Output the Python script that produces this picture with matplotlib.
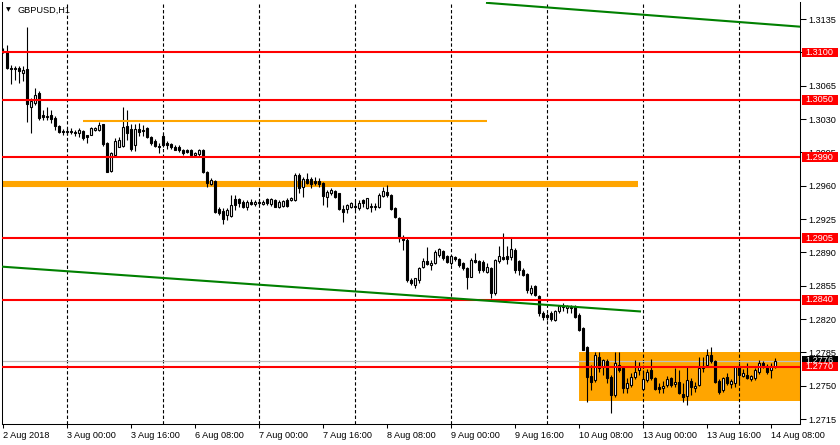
import matplotlib
matplotlib.use("Agg")
import matplotlib.pyplot as plt
import matplotlib.transforms as mtransforms
from matplotlib.patches import Rectangle
import numpy as np

# GBPUSD H1 bars, 2 Aug 2018 08:00 -> 14 Aug 2018 09:00 (weekends skipped)
opens = [
    1.3100, 1.3100, 1.3084, 1.3083, 1.3084, 1.3078, 1.3083, 1.3043, 1.3047, 1.3057,
    1.3034, 1.3032, 1.3034, 1.3031, 1.3023, 1.3017, 1.3016, 1.3017, 1.3016, 1.3015,
    1.3017, 1.3013, 1.3013, 1.3019, 1.3019, 1.3025, 1.3005, 1.2975, 1.2992, 1.3001,
    1.3002, 1.3023, 1.3020, 1.3003, 1.3020, 1.3019, 1.3021, 1.3011, 1.3007, 1.3002,
    1.3012, 1.3005, 1.3004, 1.3001, 1.3001, 1.2997, 1.2997, 1.2997, 1.2992, 1.2993,
    1.2997, 1.2974, 1.2962, 1.2965, 1.2936, 1.2933, 1.2929, 1.2928, 1.2946, 1.2946,
    1.2943, 1.2938, 1.2943, 1.2941, 1.2943, 1.2941, 1.2946, 1.2941, 1.2945, 1.2938,
    1.2939, 1.2945, 1.2945, 1.2945, 1.2971, 1.2959, 1.2967, 1.2967, 1.2965, 1.2965,
    1.2963, 1.2948, 1.2952, 1.2954, 1.2952, 1.2936, 1.2936, 1.2938, 1.2939, 1.2937,
    1.2945, 1.2937, 1.2939, 1.2938, 1.2938, 1.2949, 1.2953, 1.2950, 1.2937, 1.2926,
    1.2906, 1.2903, 1.2861, 1.2856, 1.2861, 1.2875, 1.2881, 1.2877, 1.2879, 1.2887,
    1.2891, 1.2886, 1.2879, 1.2885, 1.2883, 1.2879, 1.2874, 1.2864, 1.2882, 1.2881,
    1.2880, 1.2869, 1.2874, 1.2847, 1.2881, 1.2885, 1.2886, 1.2885, 1.2893, 1.2881,
    1.2871, 1.2867, 1.2847, 1.2855, 1.2844, 1.2826, 1.2824, 1.2826, 1.2819, 1.2828,
    1.2833, 1.2832, 1.2833, 1.2833, 1.2824, 1.2811, 1.2791, 1.2760, 1.2756, 1.2780,
    1.2770, 1.2776, 1.2759, 1.2740, 1.2772, 1.2769, 1.2748, 1.2751, 1.2759, 1.2766,
    1.2747, 1.2756, 1.2767, 1.2758, 1.2749, 1.2748, 1.2751, 1.2758, 1.2752, 1.2754,
    1.2741, 1.2739, 1.2755, 1.2748, 1.2751, 1.2770, 1.2772, 1.2782, 1.2776, 1.2755,
    1.2745, 1.2759, 1.2752, 1.2753, 1.2770, 1.2760, 1.2761, 1.2757, 1.2758, 1.2764,
    1.2774, 1.2771, 1.2766, 1.2770,
]
highs = [
    1.3105, 1.3108, 1.3087, 1.3086, 1.3086, 1.3086, 1.3127, 1.3052, 1.3063, 1.3059,
    1.3039, 1.3043, 1.3039, 1.3033, 1.3024, 1.3020, 1.3021, 1.3021, 1.3019, 1.3021,
    1.3019, 1.3013, 1.3022, 1.3022, 1.3027, 1.3025, 1.3006, 1.2995, 1.3010, 1.3011,
    1.3043, 1.3039, 1.3025, 1.3025, 1.3026, 1.3024, 1.3022, 1.3012, 1.3009, 1.3005,
    1.3015, 1.3007, 1.3005, 1.3003, 1.3003, 1.2999, 1.2999, 1.2999, 1.2995, 1.2999,
    1.2999, 1.2975, 1.2968, 1.2966, 1.2938, 1.2937, 1.2937, 1.2950, 1.2950, 1.2947,
    1.2945, 1.2945, 1.2946, 1.2945, 1.2946, 1.2945, 1.2947, 1.2947, 1.2946, 1.2945,
    1.2945, 1.2947, 1.2948, 1.2973, 1.2973, 1.2969, 1.2973, 1.2969, 1.2969, 1.2968,
    1.2964, 1.2956, 1.2958, 1.2956, 1.2952, 1.2940, 1.2941, 1.2943, 1.2945, 1.2945,
    1.2946, 1.2947, 1.2942, 1.2942, 1.2952, 1.2959, 1.2961, 1.2951, 1.2938, 1.2927,
    1.2908, 1.2905, 1.2863, 1.2863, 1.2875, 1.2884, 1.2896, 1.2882, 1.2893, 1.2895,
    1.2893, 1.2887, 1.2887, 1.2886, 1.2884, 1.2880, 1.2875, 1.2884, 1.2889, 1.2882,
    1.2882, 1.2879, 1.2875, 1.2883, 1.2897, 1.2910, 1.2897, 1.2905, 1.2895, 1.2882,
    1.2874, 1.2868, 1.2856, 1.2856, 1.2845, 1.2828, 1.2826, 1.2828, 1.2829, 1.2835,
    1.2837, 1.2835, 1.2835, 1.2835, 1.2826, 1.2812, 1.2792, 1.2772, 1.2785, 1.2785,
    1.2778, 1.2778, 1.2761, 1.2785, 1.2785, 1.2770, 1.2758, 1.2763, 1.2777, 1.2775,
    1.2766, 1.2768, 1.2778, 1.2759, 1.2753, 1.2755, 1.2760, 1.2759, 1.2769, 1.2766,
    1.2753, 1.2770, 1.2758, 1.2754, 1.2780, 1.2780, 1.2789, 1.2791, 1.2777, 1.2757,
    1.2759, 1.2763, 1.2757, 1.2771, 1.2774, 1.2768, 1.2774, 1.2761, 1.2769, 1.2777,
    1.2776, 1.2773, 1.2774, 1.2779,
]
lows = [
    1.3099, 1.3083, 1.3067, 1.3071, 1.3068, 1.3070, 1.3027, 1.3015, 1.3045, 1.3029,
    1.3029, 1.3029, 1.3026, 1.3019, 1.3015, 1.3013, 1.3013, 1.3014, 1.3012, 1.3011,
    1.3008, 1.3005, 1.3013, 1.3017, 1.3017, 1.3002, 1.2974, 1.2974, 1.2990, 1.3001,
    1.3001, 1.3008, 1.2996, 1.2996, 1.3012, 1.3012, 1.3010, 1.3003, 1.3001, 1.2994,
    1.3001, 1.2999, 1.2999, 1.2997, 1.2995, 1.2992, 1.2994, 1.2991, 1.2990, 1.2990,
    1.2973, 1.2959, 1.2961, 1.2931, 1.2929, 1.2920, 1.2924, 1.2927, 1.2935, 1.2938,
    1.2937, 1.2935, 1.2940, 1.2939, 1.2940, 1.2940, 1.2940, 1.2939, 1.2938, 1.2937,
    1.2938, 1.2938, 1.2944, 1.2944, 1.2952, 1.2948, 1.2962, 1.2958, 1.2961, 1.2959,
    1.2940, 1.2938, 1.2950, 1.2947, 1.2935, 1.2922, 1.2931, 1.2937, 1.2935, 1.2935,
    1.2938, 1.2936, 1.2932, 1.2935, 1.2937, 1.2948, 1.2948, 1.2935, 1.2926, 1.2901,
    1.2893, 1.2859, 1.2856, 1.2853, 1.2858, 1.2874, 1.2877, 1.2872, 1.2878, 1.2885,
    1.2882, 1.2879, 1.2877, 1.2881, 1.2875, 1.2872, 1.2852, 1.2864, 1.2879, 1.2868,
    1.2869, 1.2868, 1.2842, 1.2845, 1.2879, 1.2882, 1.2878, 1.2882, 1.2868, 1.2866,
    1.2865, 1.2847, 1.2845, 1.2844, 1.2823, 1.2819, 1.2819, 1.2818, 1.2818, 1.2826,
    1.2828, 1.2826, 1.2826, 1.2821, 1.2807, 1.2788, 1.2733, 1.2746, 1.2754, 1.2764,
    1.2761, 1.2753, 1.2721, 1.2738, 1.2764, 1.2742, 1.2742, 1.2749, 1.2757, 1.2761,
    1.2746, 1.2754, 1.2756, 1.2745, 1.2742, 1.2742, 1.2749, 1.2749, 1.2749, 1.2741,
    1.2733, 1.2730, 1.2740, 1.2743, 1.2750, 1.2764, 1.2770, 1.2774, 1.2753, 1.2741,
    1.2743, 1.2751, 1.2748, 1.2749, 1.2751, 1.2759, 1.2757, 1.2755, 1.2756, 1.2762,
    1.2769, 1.2762, 1.2758, 1.2769,
]
closes = [
    1.3101, 1.3084, 1.3083, 1.3084, 1.3080, 1.3082, 1.3046, 1.3049, 1.3055, 1.3031,
    1.3032, 1.3033, 1.3030, 1.3023, 1.3016, 1.3016, 1.3017, 1.3016, 1.3015, 1.3019,
    1.3010, 1.3011, 1.3021, 1.3021, 1.3024, 1.3004, 1.2974, 1.2994, 1.3007, 1.3008,
    1.3022, 1.3015, 1.2999, 1.3020, 1.3016, 1.3017, 1.3011, 1.3005, 1.3002, 1.3001,
    1.3003, 1.3003, 1.3001, 1.2998, 1.2997, 1.2994, 1.2995, 1.2992, 1.2994, 1.2997,
    1.2974, 1.2963, 1.2966, 1.2932, 1.2931, 1.2925, 1.2935, 1.2940, 1.2940, 1.2942,
    1.2938, 1.2943, 1.2941, 1.2943, 1.2942, 1.2943, 1.2942, 1.2946, 1.2938, 1.2943,
    1.2944, 1.2939, 1.2947, 1.2971, 1.2958, 1.2967, 1.2963, 1.2962, 1.2963, 1.2962,
    1.2949, 1.2953, 1.2956, 1.2948, 1.2936, 1.2932, 1.2940, 1.2942, 1.2938, 1.2942,
    1.2942, 1.2947, 1.2938, 1.2939, 1.2950, 1.2954, 1.2950, 1.2936, 1.2927, 1.2905,
    1.2903, 1.2861, 1.2858, 1.2863, 1.2874, 1.2881, 1.2878, 1.2879, 1.2890, 1.2894,
    1.2884, 1.2880, 1.2886, 1.2883, 1.2877, 1.2874, 1.2864, 1.2882, 1.2880, 1.2871,
    1.2871, 1.2875, 1.2847, 1.2882, 1.2886, 1.2883, 1.2883, 1.2894, 1.2871, 1.2871,
    1.2866, 1.2851, 1.2853, 1.2845, 1.2826, 1.2822, 1.2822, 1.2820, 1.2828, 1.2834,
    1.2834, 1.2834, 1.2832, 1.2822, 1.2809, 1.2788, 1.2759, 1.2754, 1.2782, 1.2769,
    1.2777, 1.2758, 1.2740, 1.2774, 1.2767, 1.2748, 1.2753, 1.2759, 1.2764, 1.2770,
    1.2757, 1.2764, 1.2758, 1.2747, 1.2747, 1.2750, 1.2757, 1.2751, 1.2754, 1.2742,
    1.2738, 1.2756, 1.2749, 1.2750, 1.2769, 1.2769, 1.2782, 1.2776, 1.2754, 1.2743,
    1.2758, 1.2753, 1.2755, 1.2770, 1.2761, 1.2763, 1.2758, 1.2760, 1.2767, 1.2774,
    1.2772, 1.2764, 1.2771, 1.2776,
]

# x axis: a label every 16 bars, day separators every 24 bars
tick_idx = [0, 16, 32, 48, 64, 80, 96, 112, 128, 144, 160, 176, 192]
tick_labels = ["2 Aug 2018", "3 Aug 00:00", "3 Aug 16:00", "6 Aug 08:00", "7 Aug 00:00",
               "7 Aug 16:00", "8 Aug 08:00", "9 Aug 00:00", "9 Aug 16:00", "10 Aug 08:00",
               "13 Aug 00:00", "13 Aug 16:00", "14 Aug 08:00"]
day_starts = [16, 40, 64, 88, 112, 136, 160, 184]
price_ticks = [1.2715, 1.2750, 1.2785, 1.2820, 1.2855, 1.2890, 1.2925,
               1.2960, 1.2995, 1.3030, 1.3065, 1.3100, 1.3135]

# drawn objects
red_levels = [1.3100, 1.3050, 1.2990, 1.2905, 1.2840, 1.2770]
thin_orange = ([20, 121], [1.3028, 1.3028])
thick_orange = ([-0.25, 158.75], [1.2962, 1.2962])
range_box = (144, 1.2734, 1.2785)          # start bar, bottom, top
green_upper = ([121, 199.25], [1.3152, 1.3127])
green_lower = ([-0.25, 159.25], [1.2875, 1.2828])

RED = "#FF0000"
ORANGE = "#FFA500"
GREEN = "#008000"

plt.rcParams.update({
    "font.family": ["Liberation Sans", "DejaVu Sans"],
    "font.size": 6.6,
    "axes.linewidth": 0.75,
})

W, H, DPI = 840, 445, 100
fig = plt.figure(figsize=(W / DPI, H / DPI), dpi=DPI)
fig.patch.set_facecolor("white")
ax = fig.add_axes([2 / W, 21 / H, 798 / W, 422 / H])
ax.set_xlim(-0.25, 199.25)
ax.set_ylim(1.27098, 1.31529)

o = np.array(opens)
h = np.array(highs)
l = np.array(lows)
c = np.array(closes)
x = np.arange(len(o))
up = c >= o

# candles: wicks first, bodies on top (white bodies hide the wick)
ax.vlines(x, l, h, color="black", lw=0.8, zorder=3)
lo = np.minimum(o, c)
ht = np.maximum(np.abs(c - o), 0.00002)
ax.bar(x[up], ht[up], bottom=lo[up], width=0.58, facecolor="white",
       edgecolor="black", lw=0.8, zorder=3.5)
ax.bar(x[~up], ht[~up], bottom=lo[~up], width=0.58, facecolor="black",
       edgecolor="black", lw=0.8, zorder=3.5)

# grid / objects
for d in day_starts:
    ax.axvline(d, color="black", lw=0.8, ls=(0, (3, 2)), zorder=1)

ax.add_patch(Rectangle((range_box[0], range_box[1]), 199.25 - range_box[0] + 1,
                       range_box[2] - range_box[1], facecolor=ORANGE,
                       edgecolor="none", zorder=0.5))
ax.axhline(closes[-1], color="#C0C0C0", lw=0.9, zorder=1.2)
ax.plot(*thick_orange, color=ORANGE, lw=4.4, solid_capstyle="butt", zorder=2)
ax.plot(*thin_orange, color=ORANGE, lw=1.5, solid_capstyle="butt", zorder=4)
for lv in red_levels:
    ax.axhline(lv, color=RED, lw=1.5, zorder=5)
ax.plot(*green_upper, color=GREEN, lw=1.5, zorder=5)
ax.plot(*green_lower, color=GREEN, lw=1.5, zorder=5)

# axes styling
ax.spines["top"].set_visible(False)
ax.yaxis.tick_right()
ax.set_yticks(price_ticks)
# a scale value that sits exactly on a level line is covered by its tag
ax.set_yticklabels(["" if p in red_levels else f"{p:.4f}" for p in price_ticks])
ax.tick_params(axis="y", direction="out", length=4, width=0.75, pad=2, colors="black")
ax.set_xticks(tick_idx)
ax.set_xticklabels(tick_labels, ha="left")
ax.tick_params(axis="x", direction="out", length=3, width=0.75, pad=2, colors="black")

# price tags on the right scale (pixel placement through the data transform)
ident = mtransforms.IdentityTransform()


def price_tag(price, face):
    ypx = ax.transData.transform((0, price))[1]
    fig.add_artist(Rectangle((802, ypx - 4.8), 36, 9.6, facecolor=face,
                             edgecolor="none", transform=ident, zorder=10))
    fig.text(805, ypx, f"{price:.4f}", color="white", va="center", ha="left",
             transform=ident, zorder=11)


price_tag(closes[-1], "black")
for lv in red_levels:
    price_tag(lv, RED)

# chart caption
ypx_top = H - 10
fig.text(6, ypx_top, "\u25bc", fontsize=4.5, va="center", ha="left",
         transform=ident, family="DejaVu Sans")
fig.text(17, ypx_top, "GBPUSD,H1", va="center", ha="left", transform=ident)

fig.savefig("out.png", dpi=DPI, facecolor="white")
